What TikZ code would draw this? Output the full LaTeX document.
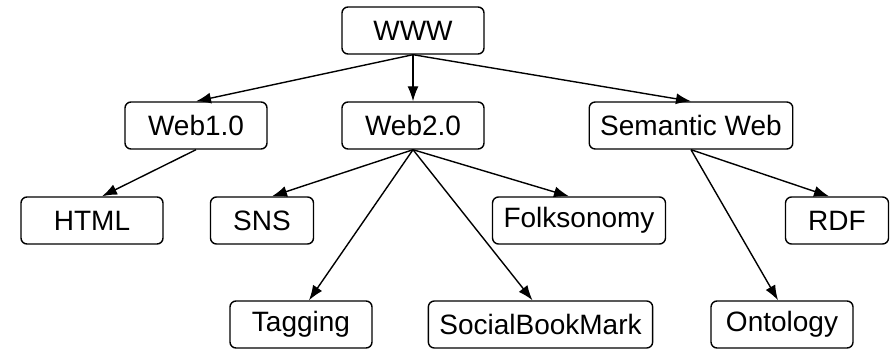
\documentclass[tikz,border=0pt]{standalone}
\usepackage{fontspec}
\setmainfont{Liberation Sans}
\usetikzlibrary{arrows.meta}

\begin{document}
\begin{tikzpicture}[x=1pt,y=-1pt,
    box/.style={rectangle,draw,rounded corners=6pt,line width=1.4pt,
      minimum width=142pt,minimum height=47pt,inner xsep=11pt,
      font=\fontsize{28}{32}\selectfont},
    small/.style={minimum width=103pt},
    >={Latex[length=15pt,width=11pt]}]

\useasboundingbox (0,0) rectangle (890,350);

\node[box] (www) at (413,30.5) {WWW};

\node[box] (web1) at (196,125.5) {Web1.0};
\node[box] (web2) at (413,125.5) {Web2.0};
\node[box] (sem) at (691,125.5) {Semantic Web};

\node[box] (html) at (92,220.5) {HTML};
\node[box,small] (sns) at (262,220.5) {SNS};
\node[box] (folk) at (579,220.5) {Folksonomy};
\node[box,small] (rdf) at (837,220.5) {RDF};

\node[box] (tag) at (301,324.5) {Tagging};
\node[box] (sbm) at (540.5,324.5) {SocialBookMark};
\node[box] (onto) at (782,324.5) {Ontology};

% From WWW
\draw[->,line width=1.4pt] (www.south) -- (web1.north);
\draw[->,line width=1.4pt] (www.south) -- (web2.north);
\draw[->,line width=1.4pt] (www.south) -- (sem.north);

% From Web1.0
\draw[->,line width=1.4pt] (web1.south) -- ([xshift=10pt]html.north);

% From Web2.0
\draw[->,line width=1.4pt] (web2.south) -- ([xshift=10pt]sns.north);
\draw[->,line width=1.4pt] (web2.south) -- ([xshift=-10pt]folk.north);
\draw[->,line width=1.4pt] (web2.south) -- ([xshift=8pt]tag.north);
\draw[->,line width=1.4pt] (web2.south) -- ([xshift=-8pt]sbm.north);

% From Semantic Web
\draw[->,line width=1.4pt] (sem.south) -- ([xshift=-4pt]onto.north);
\draw[->,line width=1.4pt] (sem.south) -- ([xshift=-8pt]rdf.north);

\end{tikzpicture}
\end{document}
